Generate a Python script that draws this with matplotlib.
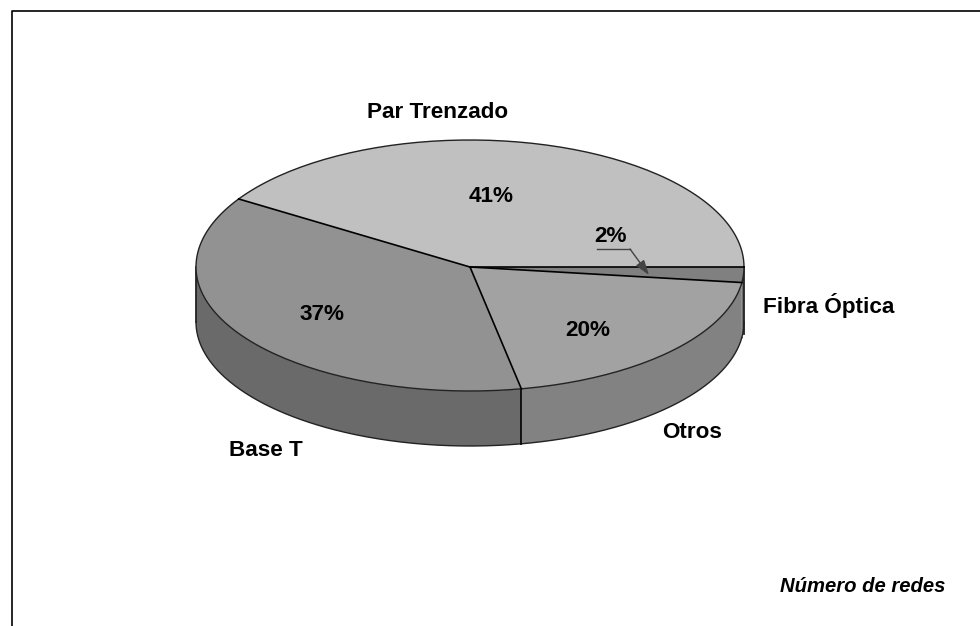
import numpy as np
import matplotlib
matplotlib.use("Agg")
import matplotlib.pyplot as plt
from matplotlib.patches import Polygon

# Slices clockwise from the right
categories = ["Fibra Óptica", "Otros", "Base T", "Par Trenzado"]
percentages = [2, 20, 37, 41]
top_colors = ["#808080", "#a2a2a2", "#929292", "#c0c0c0"]
side_colors = ["#6e6e6e", "#828282", "#6a6a6a", "#a0a0a0"]

W, H = 980, 626
CX, CY, RX, RY_UP, RY_DOWN, DEPTH = 470, 267, 274, 127, 124, 55

fig = plt.figure(figsize=(W / 100, H / 100), dpi=100, facecolor="white")
ax = fig.add_axes([0, 0, 1, 1])
ax.set_xlim(0, W)
ax.set_ylim(H, 0)
ax.axis("off")
plt.rcParams["font.family"] = ["Liberation Sans", "DejaVu Sans"]


def rim(a0, a1, dy=0.0):
    t = np.radians(np.linspace(a0, a1, 240))
    s = np.sin(t)
    ry = np.where(s < 0, RY_UP, RY_DOWN)
    return np.column_stack([CX + RX * np.cos(t), CY + ry * s + dy])


edges = np.concatenate([[0], np.cumsum(percentages)]) * 3.6

# Side wall of the disc (front half only)
for a0, a1, col in zip(edges[:-1], edges[1:], side_colors):
    lo, hi = max(a0, 0), min(a1, 180)
    if hi > lo:
        pts = np.vstack([rim(lo, hi), rim(hi, lo, DEPTH)])
        ax.add_patch(Polygon(pts, closed=True, fc=col, ec="none", zorder=1))
        ax.plot(*rim(lo, hi, DEPTH).T, color="#222222", lw=1.0, zorder=2)

# Vertical edges of the wall
x, y = rim(edges[2], edges[2])[0]
ax.plot([x, x], [y, y + DEPTH], color="black", lw=1.2, zorder=2)
ax.plot([CX + RX - 0.5] * 2, [CY, CY + DEPTH + 12], color="#222222", lw=1.3, zorder=2)
ax.plot([CX - RX] * 2, [CY, CY + DEPTH], color="#222222", lw=1.3, zorder=2)

# Top face
for a0, a1, col in zip(edges[:-1], edges[1:], top_colors):
    pts = np.vstack([[CX, CY], rim(a0, a1)])
    ax.add_patch(Polygon(pts, closed=True, fc=col, ec="none", zorder=3))
ax.plot(*rim(0, 360).T, color="#222222", lw=1.0, zorder=4)
for a in edges[:-1]:
    x, y = rim(a, a)[0]
    ax.plot([CX, x], [CY, y], color="black", lw=1.2, zorder=4)

# Outer frame: only the top and left sides are visible
ax.plot([11.5, 11.5, W], [H, 10.5, 10.5], color="black", lw=1.2, zorder=5)

# Leader from the 2% label to its slice
ax.plot([597, 630], [249, 249], color="#444444", lw=1.0, zorder=5)
ax.annotate("", xy=(649, 275), xytext=(630, 249), zorder=5,
            arrowprops=dict(arrowstyle="-|>,head_width=0.3,head_length=0.9",
                            color="#444444", lw=1.0, shrinkA=0, shrinkB=0))

fs = 16.2
txt = dict(fontweight="bold", fontsize=fs, color="black", ha="center", va="center", zorder=6)
for v, xy in zip(percentages, [(610, 236), (588, 331), (322, 315), (491, 197)]):
    ax.text(*xy, f"{v}%", **txt)
for s, xy in zip(categories, [(829, 306), (692, 433), (266, 451), (438, 113)]):
    ax.text(*xy, s, **txt)
ax.text(945, 586, "Número de redes", fontstyle="italic", fontweight="bold", fontsize=14.6,
        color="black", ha="right", va="center", zorder=6)

fig.savefig("out.png", dpi=100, facecolor="white")
